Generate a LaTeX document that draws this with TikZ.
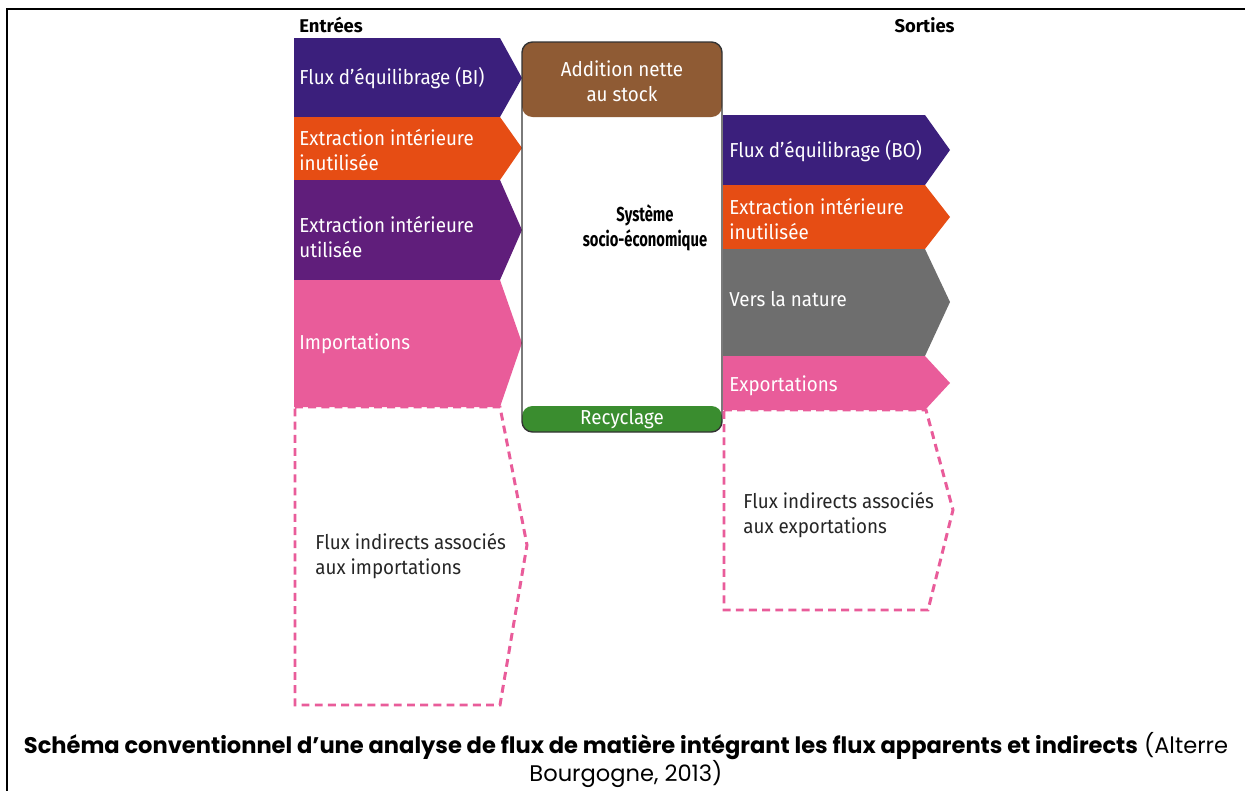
\documentclass[tikz,border=0pt]{standalone}
\usepackage{fontspec}
\newfontfamily\diagfont[FakeStretch=0.93]{Fira Sans}
\newfontfamily\headfont[FakeStretch=1.0]{Fira Sans}
\newfontfamily\sysfont[FakeStretch=0.73]{Fira Sans}
\newfontfamily\capfont{Poppins}
\usetikzlibrary{positioning}

\definecolor{eqviolet}{HTML}{3B1F7C}
\definecolor{extorange}{HTML}{E64D14}
\definecolor{extviolet}{HTML}{601E7B}
\definecolor{fluxpink}{HTML}{E95C9A}
\definecolor{naturegray}{HTML}{6E6E6E}
\definecolor{stockbrown}{HTML}{8F5B34}
\definecolor{recygreen}{HTML}{3A8D2F}

\tikzset{
  flowtxt/.style={anchor=west, align=left, text=white, inner sep=0pt,
    font=\diagfont\fontsize{11.5}{14.2}\selectfont},
  headtxt/.style={inner sep=0pt, font=\headfont\bfseries\fontsize{10.5}{14.2}\selectfont},
  systxt/.style={inner sep=0pt, font=\sysfont\bfseries\fontsize{11.5}{14.2}\selectfont},
  indtxt/.style={anchor=west, align=left, text=black!85, inner sep=0pt,
    font=\diagfont\fontsize{11.5}{14.2}\selectfont},
  indirect/.style={draw=fluxpink, line width=1.7pt, dash pattern=on 4.5pt off 3pt},
}

\begin{document}
\begin{tikzpicture}[x=0.02cm, y=-0.02cm]
    \useasboundingbox (0,0) rectangle (1245,791);
    % frame
    \draw[line width=0.8pt] (7,791) -- (7,9) -- (1245,9);

    % Entrees
    \fill[eqviolet]   (294,38)  -- (500,38)  -- (522,78)  -- (500,117) -- (294,117) -- cycle;
    \fill[extorange]  (294,117) -- (500,117) -- (522,148) -- (500,180) -- (294,180) -- cycle;
    \fill[extviolet]  (294,180) -- (500,180) -- (522,230) -- (500,280) -- (294,280) -- cycle;
    \fill[fluxpink]   (294,280) -- (500,280) -- (522,343) -- (500,407) -- (294,407) -- cycle;
    \draw[indirect]   (295,407) -- (500,407) -- (527,545) -- (500,705) -- (295,705) -- cycle;

    \node[headtxt, anchor=west] (entrees) at (299,25) {Entrées};
    \node[flowtxt] (eqbi)  at (299,78)  {Flux d’équilibrage (BI)};
    \node[flowtxt] (eiiin) at (299,150) {Extraction intérieure\\inutilisée};
    \node[flowtxt] (eiuin) at (299,237) {Extraction intérieure\\utilisée};
    \node[flowtxt] (imp)   at (299,344) {Importations};
    \node[indtxt]  (indimp) at (315,556) {Flux indirects associés\\aux importations};

    % Systeme
    \fill[white] (522,42) rectangle (722,432);
    \fill[stockbrown, rounded corners=6pt] (522,117) -- (522,42) -- (722,42) -- (722,117) -- cycle;
    \fill[recygreen, rounded corners=6pt] (522,406) -- (522,432) -- (722,432) -- (722,406) -- cycle;
    \draw[black!80, line width=0.8pt, rounded corners=6pt] (522,42) rectangle (722,432);
    \node[systxt, align=center] (sys) at (645,228) {Système\\socio-économique};
    \node[flowtxt, anchor=center, align=center] (stock) at (622,81) {Addition nette\\au stock};
    \node[flowtxt, anchor=center] (recy) at (622,419) {Recyclage};

    % Sorties
    \fill[eqviolet]   (723,115) -- (925,115) -- (950,150) -- (925,185) -- (723,185) -- cycle;
    \fill[extorange]  (723,185) -- (925,185) -- (950,217) -- (925,249) -- (723,249) -- cycle;
    \fill[naturegray] (723,249) -- (925,249) -- (950,302) -- (925,356) -- (723,356) -- cycle;
    \fill[fluxpink]   (723,356) -- (925,356) -- (950,383) -- (925,410) -- (723,410) -- cycle;
    \draw[indirect]   (724,410) -- (926,410) -- (953,510) -- (928,610) -- (724,610) -- cycle;

    \node[headtxt, anchor=east] (sorties) at (955,25) {Sorties};
    \node[flowtxt] (eqbo)  at (729,151) {Flux d’équilibrage (BO)};
    \node[flowtxt] (eiiout) at (729,219) {Extraction intérieure\\inutilisée};
    \node[flowtxt] (nat)   at (729,299) {Vers la nature};
    \node[flowtxt] (exp)   at (729,386) {Exportations};
    \node[indtxt]  (indexp) at (743,515) {Flux indirects associés\\aux exportations};

    % legende
    \node[align=center, inner sep=0pt, font=\capfont\fontsize{12.85}{15.6}\selectfont] (legende) at (626,760)
      {\textbf{Schéma conventionnel d’une analyse de flux de matière intégrant les flux apparents et indirects} (Alterre\\Bourgogne, 2013)};
\end{tikzpicture}
\end{document}
